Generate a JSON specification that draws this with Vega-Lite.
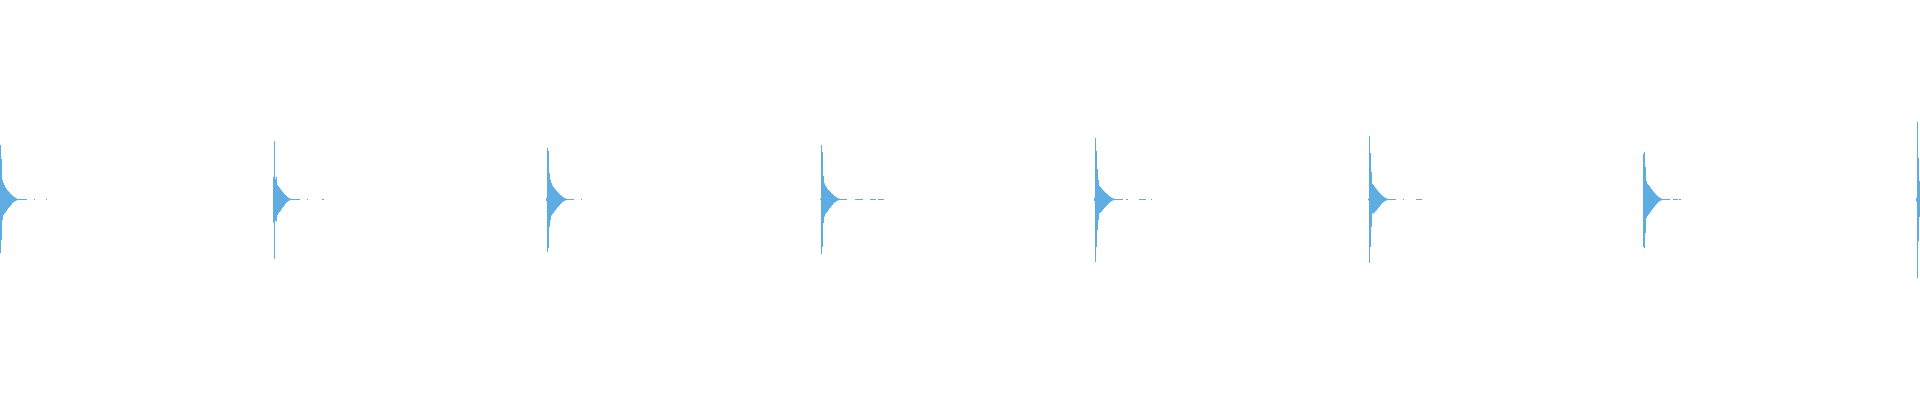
{
  "$schema": "https://vega.github.io/schema/vega-lite/v6.json",
  "width": 1920,
  "height": 400,
  "autosize": {"type": "fit", "contains": "padding"},
  "padding": 0,
  "background": "white",
  "config": {"view": {"stroke": null}},
  "data": {
    "values": [
      {"t": 0, "hi": 0.273, "lo": -0.268},
      {"t": 1, "hi": 0.203, "lo": -0.203},
      {"t": 2, "hi": 0.098, "lo": -0.103},
      {"t": 3, "hi": 0.083, "lo": -0.078},
      {"t": 4, "hi": 0.072, "lo": -0.070},
      {"t": 5, "hi": 0.061, "lo": -0.066},
      {"t": 6, "hi": 0.055, "lo": -0.058},
      {"t": 7, "hi": 0.046, "lo": -0.050},
      {"t": 8, "hi": 0.041, "lo": -0.043},
      {"t": 9, "hi": 0.036, "lo": -0.038},
      {"t": 10, "hi": 0.030, "lo": -0.031},
      {"t": 11, "hi": 0.025, "lo": -0.026},
      {"t": 12, "hi": 0.020, "lo": -0.018},
      {"t": 13, "hi": 0.016, "lo": -0.014},
      {"t": 14, "hi": 0.012, "lo": -0.011},
      {"t": 15, "hi": 0.009, "lo": -0.008},
      {"t": 16, "hi": 0.006, "lo": -0.005},
      {"t": 17, "hi": 0.004, "lo": -0.003},
      {"t": 18, "hi": 0.0025, "lo": -0.0025},
      {"t": 19, "hi": 0.0025, "lo": -0.0025},
      {"t": 20, "hi": 0.0025, "lo": -0.0025},
      {"t": 21, "hi": 0.0025, "lo": -0.0025},
      {"t": 22, "hi": 0.0025, "lo": -0.0025},
      {"t": 23, "hi": 0.0025, "lo": -0.0025},
      {"t": 24, "hi": 0.0025, "lo": -0.0025},
      {"t": 25, "hi": 0.0025, "lo": -0.0025},
      {"t": 26, "hi": 0.0025, "lo": -0.0025},
      {"t": 34, "hi": 0.0025, "lo": -0.0025},
      {"t": 46, "hi": 0.0025, "lo": -0.0025},

      {"t": 273, "hi": 0.114, "lo": -0.116},
      {"t": 274, "hi": 0.293, "lo": -0.298},
      {"t": 275, "hi": 0.103, "lo": -0.106},
      {"t": 276, "hi": 0.114, "lo": -0.111},
      {"t": 277, "hi": 0.073, "lo": -0.078},
      {"t": 278, "hi": 0.066, "lo": -0.070},
      {"t": 279, "hi": 0.060, "lo": -0.063},
      {"t": 280, "hi": 0.052, "lo": -0.058},
      {"t": 281, "hi": 0.046, "lo": -0.049},
      {"t": 282, "hi": 0.040, "lo": -0.041},
      {"t": 283, "hi": 0.034, "lo": -0.036},
      {"t": 284, "hi": 0.028, "lo": -0.030},
      {"t": 285, "hi": 0.023, "lo": -0.021},
      {"t": 286, "hi": 0.018, "lo": -0.016},
      {"t": 287, "hi": 0.013, "lo": -0.012},
      {"t": 288, "hi": 0.009, "lo": -0.008},
      {"t": 289, "hi": 0.006, "lo": -0.005},
      {"t": 290, "hi": 0.004, "lo": -0.003},
      {"t": 291, "hi": 0.0025, "lo": -0.0025},
      {"t": 292, "hi": 0.0025, "lo": -0.0025},
      {"t": 293, "hi": 0.0025, "lo": -0.0025},
      {"t": 294, "hi": 0.0025, "lo": -0.0025},
      {"t": 295, "hi": 0.0025, "lo": -0.0025},
      {"t": 296, "hi": 0.0025, "lo": -0.0025},
      {"t": 297, "hi": 0.0025, "lo": -0.0025},
      {"t": 298, "hi": 0.0025, "lo": -0.0025},
      {"t": 299, "hi": 0.0025, "lo": -0.0025},
      {"t": 307, "hi": 0.0025, "lo": -0.0025},
      {"t": 322, "hi": 0.0025, "lo": -0.0025},
      {"t": 323, "hi": 0.0025, "lo": -0.0025},

      {"t": 546, "hi": 0.008, "lo": -0.008},
      {"t": 547, "hi": 0.258, "lo": -0.263},
      {"t": 548, "hi": 0.243, "lo": -0.243},
      {"t": 549, "hi": 0.133, "lo": -0.138},
      {"t": 550, "hi": 0.098, "lo": -0.103},
      {"t": 551, "hi": 0.083, "lo": -0.080},
      {"t": 552, "hi": 0.070, "lo": -0.073},
      {"t": 553, "hi": 0.063, "lo": -0.066},
      {"t": 554, "hi": 0.056, "lo": -0.061},
      {"t": 555, "hi": 0.050, "lo": -0.053},
      {"t": 556, "hi": 0.044, "lo": -0.046},
      {"t": 557, "hi": 0.039, "lo": -0.041},
      {"t": 558, "hi": 0.033, "lo": -0.035},
      {"t": 559, "hi": 0.028, "lo": -0.030},
      {"t": 560, "hi": 0.023, "lo": -0.024},
      {"t": 561, "hi": 0.019, "lo": -0.018},
      {"t": 562, "hi": 0.015, "lo": -0.014},
      {"t": 563, "hi": 0.011, "lo": -0.010},
      {"t": 564, "hi": 0.008, "lo": -0.007},
      {"t": 565, "hi": 0.006, "lo": -0.005},
      {"t": 566, "hi": 0.004, "lo": -0.003},
      {"t": 567, "hi": 0.0025, "lo": -0.0025},
      {"t": 568, "hi": 0.0025, "lo": -0.0025},
      {"t": 569, "hi": 0.0025, "lo": -0.0025},
      {"t": 570, "hi": 0.0025, "lo": -0.0025},
      {"t": 571, "hi": 0.0025, "lo": -0.0025},
      {"t": 572, "hi": 0.0025, "lo": -0.0025},
      {"t": 573, "hi": 0.0025, "lo": -0.0025},
      {"t": 581, "hi": 0.0025, "lo": -0.0025},

      {"t": 820, "hi": 0.0025, "lo": -0.0025},
      {"t": 821, "hi": 0.273, "lo": -0.273},
      {"t": 822, "hi": 0.238, "lo": -0.238},
      {"t": 823, "hi": 0.118, "lo": -0.118},
      {"t": 824, "hi": 0.081, "lo": -0.086},
      {"t": 825, "hi": 0.069, "lo": -0.073},
      {"t": 826, "hi": 0.063, "lo": -0.066},
      {"t": 827, "hi": 0.053, "lo": -0.061},
      {"t": 828, "hi": 0.048, "lo": -0.053},
      {"t": 829, "hi": 0.043, "lo": -0.044},
      {"t": 830, "hi": 0.038, "lo": -0.041},
      {"t": 831, "hi": 0.031, "lo": -0.033},
      {"t": 832, "hi": 0.028, "lo": -0.028},
      {"t": 833, "hi": 0.023, "lo": -0.021},
      {"t": 834, "hi": 0.018, "lo": -0.016},
      {"t": 835, "hi": 0.014, "lo": -0.013},
      {"t": 836, "hi": 0.011, "lo": -0.009},
      {"t": 837, "hi": 0.008, "lo": -0.006},
      {"t": 838, "hi": 0.006, "lo": -0.004},
      {"t": 839, "hi": 0.004, "lo": -0.0025},
      {"t": 840, "hi": 0.0025, "lo": -0.0025},
      {"t": 841, "hi": 0.0025, "lo": -0.0025},
      {"t": 842, "hi": 0.0025, "lo": -0.0025},
      {"t": 843, "hi": 0.0025, "lo": -0.0025},
      {"t": 844, "hi": 0.0025, "lo": -0.0025},
      {"t": 845, "hi": 0.0025, "lo": -0.0025},
      {"t": 846, "hi": 0.0025, "lo": -0.0025},
      {"t": 855, "hi": 0.0025, "lo": -0.0025},
      {"t": 856, "hi": 0.0025, "lo": -0.0025},
      {"t": 857, "hi": 0.0025, "lo": -0.0025},
      {"t": 858, "hi": 0.0025, "lo": -0.0025},
      {"t": 859, "hi": 0.0025, "lo": -0.0025},
      {"t": 860, "hi": 0.0025, "lo": -0.0025},
      {"t": 861, "hi": 0.0025, "lo": -0.0025},
      {"t": 862, "hi": 0.0025, "lo": -0.0025},
      {"t": 870, "hi": 0.0025, "lo": -0.0025},
      {"t": 871, "hi": 0.0025, "lo": -0.0025},
      {"t": 872, "hi": 0.0025, "lo": -0.0025},
      {"t": 873, "hi": 0.0025, "lo": -0.0025},
      {"t": 874, "hi": 0.0025, "lo": -0.0025},
      {"t": 875, "hi": 0.0025, "lo": -0.0025},
      {"t": 878, "hi": 0.0025, "lo": -0.0025},
      {"t": 879, "hi": 0.0025, "lo": -0.0025},
      {"t": 880, "hi": 0.0025, "lo": -0.0025},
      {"t": 881, "hi": 0.0025, "lo": -0.0025},
      {"t": 882, "hi": 0.0025, "lo": -0.0025},
      {"t": 883, "hi": 0.0025, "lo": -0.0025},

      {"t": 1094, "hi": 0.009, "lo": -0.008},
      {"t": 1095, "hi": 0.308, "lo": -0.313},
      {"t": 1096, "hi": 0.243, "lo": -0.238},
      {"t": 1097, "hi": 0.153, "lo": -0.153},
      {"t": 1098, "hi": 0.098, "lo": -0.103},
      {"t": 1099, "hi": 0.068, "lo": -0.068},
      {"t": 1100, "hi": 0.063, "lo": -0.066},
      {"t": 1101, "hi": 0.057, "lo": -0.061},
      {"t": 1102, "hi": 0.050, "lo": -0.055},
      {"t": 1103, "hi": 0.045, "lo": -0.048},
      {"t": 1104, "hi": 0.040, "lo": -0.042},
      {"t": 1105, "hi": 0.035, "lo": -0.037},
      {"t": 1106, "hi": 0.030, "lo": -0.032},
      {"t": 1107, "hi": 0.026, "lo": -0.027},
      {"t": 1108, "hi": 0.022, "lo": -0.021},
      {"t": 1109, "hi": 0.017, "lo": -0.016},
      {"t": 1110, "hi": 0.013, "lo": -0.012},
      {"t": 1111, "hi": 0.010, "lo": -0.009},
      {"t": 1112, "hi": 0.007, "lo": -0.006},
      {"t": 1113, "hi": 0.005, "lo": -0.004},
      {"t": 1114, "hi": 0.004, "lo": -0.003},
      {"t": 1115, "hi": 0.0025, "lo": -0.0025},
      {"t": 1116, "hi": 0.0025, "lo": -0.0025},
      {"t": 1117, "hi": 0.0025, "lo": -0.0025},
      {"t": 1118, "hi": 0.0025, "lo": -0.0025},
      {"t": 1119, "hi": 0.0025, "lo": -0.0025},
      {"t": 1120, "hi": 0.0025, "lo": -0.0025},
      {"t": 1121, "hi": 0.0025, "lo": -0.0025},
      {"t": 1122, "hi": 0.0025, "lo": -0.0025},
      {"t": 1126, "hi": 0.0025, "lo": -0.0025},
      {"t": 1127, "hi": 0.0025, "lo": -0.0025},
      {"t": 1139, "hi": 0.0025, "lo": -0.0025},
      {"t": 1140, "hi": 0.0025, "lo": -0.0025},
      {"t": 1141, "hi": 0.0025, "lo": -0.0025},
      {"t": 1142, "hi": 0.0025, "lo": -0.0025},
      {"t": 1143, "hi": 0.0025, "lo": -0.0025},
      {"t": 1144, "hi": 0.0025, "lo": -0.0025},
      {"t": 1145, "hi": 0.0025, "lo": -0.0025},
      {"t": 1151, "hi": 0.0025, "lo": -0.0025},

      {"t": 1368, "hi": 0.005, "lo": -0.005},
      {"t": 1369, "hi": 0.318, "lo": -0.318},
      {"t": 1370, "hi": 0.233, "lo": -0.238},
      {"t": 1371, "hi": 0.138, "lo": -0.138},
      {"t": 1372, "hi": 0.078, "lo": -0.068},
      {"t": 1373, "hi": 0.073, "lo": -0.070},
      {"t": 1374, "hi": 0.066, "lo": -0.066},
      {"t": 1375, "hi": 0.058, "lo": -0.060},
      {"t": 1376, "hi": 0.052, "lo": -0.055},
      {"t": 1377, "hi": 0.046, "lo": -0.048},
      {"t": 1378, "hi": 0.040, "lo": -0.042},
      {"t": 1379, "hi": 0.034, "lo": -0.036},
      {"t": 1380, "hi": 0.029, "lo": -0.030},
      {"t": 1381, "hi": 0.024, "lo": -0.024},
      {"t": 1382, "hi": 0.019, "lo": -0.018},
      {"t": 1383, "hi": 0.015, "lo": -0.014},
      {"t": 1384, "hi": 0.011, "lo": -0.010},
      {"t": 1385, "hi": 0.008, "lo": -0.007},
      {"t": 1386, "hi": 0.006, "lo": -0.005},
      {"t": 1387, "hi": 0.004, "lo": -0.003},
      {"t": 1388, "hi": 0.0025, "lo": -0.0025},
      {"t": 1389, "hi": 0.0025, "lo": -0.0025},
      {"t": 1390, "hi": 0.0025, "lo": -0.0025},
      {"t": 1391, "hi": 0.0025, "lo": -0.0025},
      {"t": 1392, "hi": 0.0025, "lo": -0.0025},
      {"t": 1393, "hi": 0.0025, "lo": -0.0025},
      {"t": 1394, "hi": 0.0025, "lo": -0.0025},
      {"t": 1395, "hi": 0.0025, "lo": -0.0025},
      {"t": 1403, "hi": 0.0025, "lo": -0.0025},
      {"t": 1416, "hi": 0.0025, "lo": -0.0025},
      {"t": 1417, "hi": 0.0025, "lo": -0.0025},
      {"t": 1418, "hi": 0.0025, "lo": -0.0025},
      {"t": 1419, "hi": 0.0025, "lo": -0.0025},
      {"t": 1420, "hi": 0.0025, "lo": -0.0025},
      {"t": 1421, "hi": 0.0025, "lo": -0.0025},

      {"t": 1643, "hi": 0.228, "lo": -0.238},
      {"t": 1644, "hi": 0.238, "lo": -0.243},
      {"t": 1645, "hi": 0.163, "lo": -0.168},
      {"t": 1646, "hi": 0.093, "lo": -0.093},
      {"t": 1647, "hi": 0.078, "lo": -0.083},
      {"t": 1648, "hi": 0.073, "lo": -0.076},
      {"t": 1649, "hi": 0.068, "lo": -0.070},
      {"t": 1650, "hi": 0.060, "lo": -0.063},
      {"t": 1651, "hi": 0.053, "lo": -0.056},
      {"t": 1652, "hi": 0.046, "lo": -0.049},
      {"t": 1653, "hi": 0.040, "lo": -0.042},
      {"t": 1654, "hi": 0.034, "lo": -0.036},
      {"t": 1655, "hi": 0.028, "lo": -0.030},
      {"t": 1656, "hi": 0.023, "lo": -0.024},
      {"t": 1657, "hi": 0.018, "lo": -0.018},
      {"t": 1658, "hi": 0.014, "lo": -0.013},
      {"t": 1659, "hi": 0.010, "lo": -0.009},
      {"t": 1660, "hi": 0.007, "lo": -0.006},
      {"t": 1661, "hi": 0.005, "lo": -0.004},
      {"t": 1662, "hi": 0.0025, "lo": -0.0025},
      {"t": 1663, "hi": 0.0025, "lo": -0.0025},
      {"t": 1664, "hi": 0.0025, "lo": -0.0025},
      {"t": 1665, "hi": 0.0025, "lo": -0.0025},
      {"t": 1666, "hi": 0.0025, "lo": -0.0025},
      {"t": 1667, "hi": 0.0025, "lo": -0.0025},
      {"t": 1668, "hi": 0.0025, "lo": -0.0025},
      {"t": 1669, "hi": 0.0025, "lo": -0.0025},
      {"t": 1673, "hi": 0.0025, "lo": -0.0025},
      {"t": 1674, "hi": 0.0025, "lo": -0.0025},
      {"t": 1675, "hi": 0.0025, "lo": -0.0025},
      {"t": 1676, "hi": 0.0025, "lo": -0.0025},
      {"t": 1677, "hi": 0.0025, "lo": -0.0025},
      {"t": 1679, "hi": 0.0025, "lo": -0.0025},
      {"t": 1680, "hi": 0.0025, "lo": -0.0025},

      {"t": 1916, "hi": 0.009, "lo": -0.011},
      {"t": 1917, "hi": 0.388, "lo": -0.393},
      {"t": 1918, "hi": 0.208, "lo": -0.208},
      {"t": 1919, "hi": 0.093, "lo": -0.088}
    ]
  },
  "mark": {"type": "rule", "color": "#5DADE2", "strokeWidth": 1},
  "encoding": {
    "x": {
      "field": "t",
      "type": "quantitative",
      "scale": {"domain": [-0.5, 1919.5], "nice": false, "zero": false},
      "axis": null
    },
    "y": {
      "field": "hi",
      "type": "quantitative",
      "scale": {"domain": [-1.0025, 0.9975], "nice": false, "zero": false},
      "axis": null
    },
    "y2": {"field": "lo"}
  }
}
